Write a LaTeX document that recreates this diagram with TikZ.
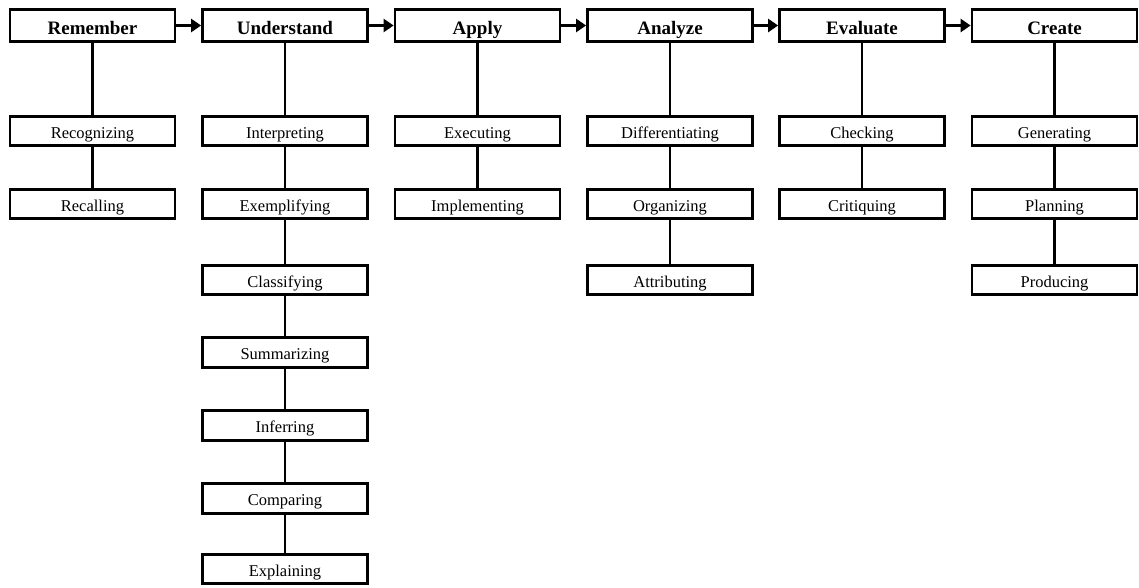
\documentclass[tikz,border=0pt]{standalone}
\usepackage{fontspec}
\setmainfont{Liberation Serif}
\usetikzlibrary{arrows.meta}
\begin{document}
\begin{tikzpicture}[x=1pt,y=-1pt,
  head/.style={draw=black,line width=2.8pt,minimum width=165pt,minimum height=32pt,inner sep=0pt,text height=17.5pt,text depth=0pt,font=\fontsize{19}{20}\selectfont\bfseries},
  sub/.style={draw=black,line width=2.8pt,minimum width=165pt,minimum height=29.5pt,inner sep=0pt,text height=14pt,text depth=0pt,font=\fontsize{16.5}{18}\selectfont},
  link/.style={line width=2.8pt},
  flow/.style={line width=2.8pt,-{Triangle[length=10pt,width=13pt]}}]
\useasboundingbox (0,0) rectangle (1139,587);
% headers
\node[head] (h1) at (92.5,25.5) {Remember};
\node[head] (h2) at (285,25.5) {Understand};
\node[head] (h3) at (477.5,25.5) {Apply};
\node[head] (h4) at (670,25.5) {Analyze};
\node[head] (h5) at (862,25.5) {Evaluate};
\node[head] (h6) at (1054.5,25.5) {Create};
\foreach \a/\b in {h1/h2,h2/h3,h3/h4,h4/h5,h5/h6} \draw[flow] (\a.east) -- (\b.west);
% Remember
\node[sub] (r1) at (92.5,131) {Recognizing};
\node[sub] (r2) at (92.5,204) {Recalling};
% Understand
\node[sub] (u1) at (285,131) {Interpreting};
\node[sub] (u2) at (285,204) {Exemplifying};
\node[sub] (u3) at (285,280) {Classifying};
\node[sub] (u4) at (285,352.5) {Summarizing};
\node[sub] (u5) at (285,425.5) {Inferring};
\node[sub] (u6) at (285,498.5) {Comparing};
\node[sub] (u7) at (285,569) {Explaining};
% Apply
\node[sub] (a1) at (477.5,131) {Executing};
\node[sub] (a2) at (477.5,204) {Implementing};
% Analyze
\node[sub] (n1) at (670,131) {Differentiating};
\node[sub] (n2) at (670,204) {Organizing};
\node[sub] (n3) at (670,280) {Attributing};
% Evaluate
\node[sub] (e1) at (862,131) {Checking};
\node[sub] (e2) at (862,204) {Critiquing};
% Create
\node[sub] (c1) at (1054.5,131) {Generating};
\node[sub] (c2) at (1054.5,204) {Planning};
\node[sub] (c3) at (1054.5,280) {Producing};
% vertical links
\foreach \a/\b in {h1/r1,r1/r2,h2/u1,u1/u2,u2/u3,u3/u4,u4/u5,u5/u6,u6/u7,h3/a1,a1/a2,h4/n1,n1/n2,n2/n3,h5/e1,e1/e2,h6/c1,c1/c2,c2/c3}
  \draw[link] (\a.south) -- (\b.north);
\end{tikzpicture}
\end{document}
